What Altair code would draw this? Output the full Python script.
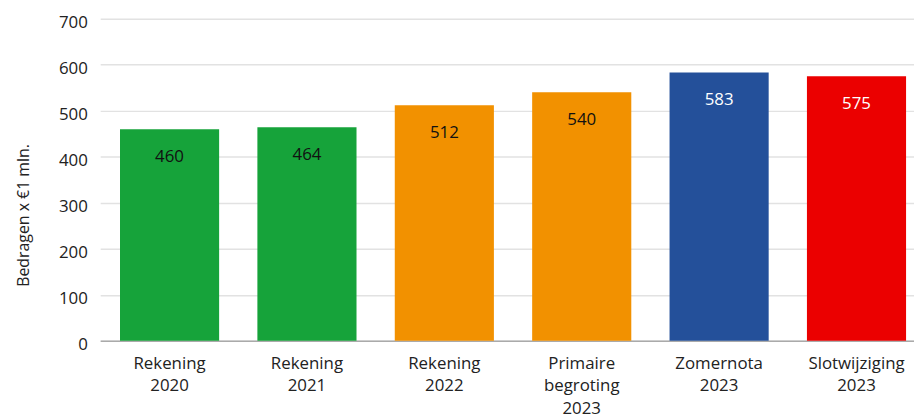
import altair as alt
import pandas as pd

categories = ["Rekening 2020", "Rekening 2021", "Rekening 2022",
              "Primaire begroting 2023", "Zomernota 2023", "Slotwijziging 2023"]
values = [460, 464, 512, 540, 583, 575]
bar_colors = ["#16a33a", "#16a33a", "#f29100", "#f29100", "#24509a", "#eb0000"]
label_colors = ["#111111", "#111111", "#111111", "#111111", "#ffffff", "#ffffff"]

df = pd.DataFrame({
    "cat": categories,
    "value": values,
    "color": bar_colors,
    "tcolor": label_colors,
})

FONT = "Open Sans"

x = alt.X("cat:N", sort=categories, title=None,
          scale=alt.Scale(paddingInner=0.2785, paddingOuter=0.101, align=0.714),
          axis=alt.Axis(labelExpr="split(datum.label, ' ')", labelAngle=0,
                        labelFontSize=17, labelFont=FONT, labelColor="#222222",
                        labelLineHeight=22.6, labelPadding=28, ticks=False,
                        domainColor="#aaaaaa", domainWidth=1.5,
                        labelBaseline="alphabetic"))

y = alt.Y("value:Q", title="Bedragen x €1 mln.",
          scale=alt.Scale(domain=[0, 700]),
          axis=alt.Axis(values=[0, 100, 200, 300, 400, 500, 600, 700],
                        labelFontSize=17, labelFont=FONT, labelColor="#222222",
                        labelPadding=13, labelOffset=3.5, labelFlush=False,
                        ticks=False, domain=False,
                        gridColor="#e2e2e2", gridWidth=1.5,
                        titleFont=FONT, titleFontSize=16, titleFontWeight="normal",
                        titleColor="#222222", titleAngle=270,
                        titleX=-72, titleY=198, titleAlign="center",
                        titleBaseline="alphabetic"))

bars = alt.Chart(df).mark_bar(cornerRadius=0).encode(
    x=x, y=y, color=alt.Color("color:N", scale=None)
)

text = alt.Chart(df).mark_text(baseline="alphabetic", dy=33, fontSize=17, font=FONT).encode(
    x=alt.X("cat:N", sort=categories),
    y=alt.Y("value:Q"),
    text=alt.Text("value:Q"),
    color=alt.Color("tcolor:N", scale=None),
)

chart = (bars + text).properties(
    width=821, height=325,
    autosize=alt.AutoSizeParams(type="none"),
    padding={"left": 93, "top": 9, "right": 0, "bottom": 72},
).configure_view(stroke=None)

chart.save("out.html", embed_options={"renderer": "svg", "actions": False})
